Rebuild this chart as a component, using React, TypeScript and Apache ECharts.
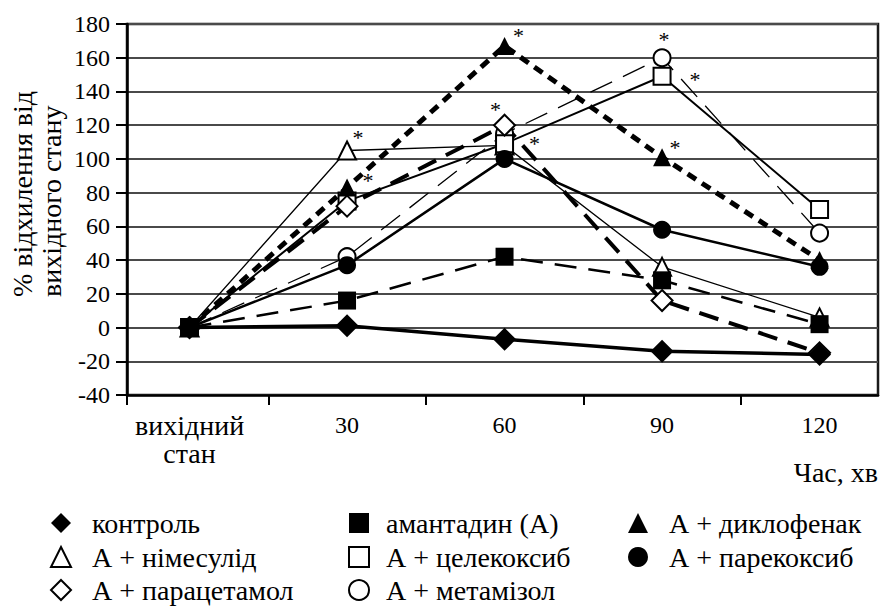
import React, { useEffect, useRef } from "react";
import * as echarts from "echarts";

// ---------- data ----------
const categories = ["вихідний\nстан", "30", "60", "90", "120"];
const yMin = -40;
const yMax = 180;
const yStep = 20;

const control = [0, 1, -7, -14, -16];
const amantadine = [0, 16, 42, 28, 2];
const diclofenac = [0, 83, 167, 101, 40];
const nimesulide = [0, 105, 108, 36, 6];
const celecoxib = [0, 75, 109, 149, 70];
const parecoxib = [0, 37, 100, 58, 36];
const paracetamol = [0, 72, 120, 16, -15];
const metamizole = [0, 42, 115, 160, 56];

// points marked with an asterisk (indices into categories)
const diclofenacStars = [1, 2, 3];
const nimesulideStars = [1];
const celecoxibStars = [2, 3];
const paracetamolStars = [2];
const metamizoleStars = [3];

// legend layout: three columns of names
const legendColumns = [
  ["контроль", "А + німесулід", "А + парацетамол"],
  ["амантадин (А)", "А + целекоксиб", "А + метамізол"],
  ["А + диклофенак", "А + парекоксиб"],
];

const xTitle = "Час, хв";
const yTitle = "% відхилення від\nвихідного стану";

const FONT = "Liberation Serif";
const NUM_SIZE = 24;
const WORD_SIZE = 28;

export default function App() {
  const ref = useRef<HTMLDivElement>(null);

  useEffect(() => {
    if (!ref.current) return;
    const chart = echarts.init(ref.current, undefined, { renderer: "svg" });

    const starOffsets: Record<string, Record<number, [number, number]>> = {
      "А + диклофенак": { 1: [21, -7], 2: [14, -10], 3: [13, -10] },
      "А + німесулід": { 1: [11, -13] },
      "А + целекоксиб": { 2: [30, 0], 3: [33, 3] },
      "А + парацетамол": { 2: [-9, -16] },
      "А + метамізол": { 3: [2, -18] },
    };

    const mk = (
      name: string,
      values: number[],
      stars: number[],
      symbol: string,
      size: number,
      filled: boolean,
      width: number,
      type: any
    ) => ({
      name,
      type: "line",
      symbol,
      symbolSize: size,
      showAllSymbol: true,
      itemStyle: filled
        ? { color: "#000", borderWidth: 0 }
        : { color: "#fff", borderColor: "#000", borderWidth: 2 },
      lineStyle: { color: "#000", width, type },
      emphasis: { disabled: true },
      data: values.map((v, i) => {
        const item: any = { value: [i, v] };
        if (stars.indexOf(i) >= 0) {
          const off = (starOffsets[name] && starOffsets[name][i]) || [10, -12];
          item.label = {
            show: true,
            formatter: "*",
            position: "inside",
            offset: off,
            fontFamily: FONT,
            fontSize: 22,
            color: "#000",
          };
        }
        return item;
      }),
    });

    const colLeft = [34, 336, 611];
    const colItemWidth = [52, 44, 52];
    const rowTop = [509, 543, 576];
    const legends: any[] = [];
    legendColumns.forEach((names, c) => {
      names.forEach((name, r) => {
        legends.push({
          orient: "horizontal",
          left: colLeft[c],
          top: rowTop[r],
          itemWidth: colItemWidth[c],
          itemHeight: 25,
          padding: 0,
          selectedMode: false,
          lineStyle: { opacity: 0 },
          textStyle: {
            fontFamily: FONT,
            fontSize: WORD_SIZE,
            color: "#000",
            lineHeight: 19,
            padding: [0, 0, 6, 0],
          },
          data: [name],
        });
      });
    });

    chart.setOption({
      animation: false,
      backgroundColor: "#fff",
      textStyle: { fontFamily: FONT },
      grid: {
        left: 127,
        right: 3,
        top: 24,
        bottom: 214,
        containLabel: false,
        outerBoundsMode: "none",
        show: true,
        borderColor: "#1a1a1a",
        borderWidth: 2.5,
      },
      xAxis: {
        type: "value",
        min: -0.397,
        max: 4.371,
        axisLine: { show: true, onZero: false, lineStyle: { color: "#000", width: 2.5 } },
        axisTick: {
          show: true,
          customValues: [-0.397, 0.5, 1.5, 2.5, 3.5],
          length: 10,
          lineStyle: { color: "#000", width: 2 },
        },
        axisLabel: {
          customValues: [0, 1, 2, 3, 4],
          formatter: (v: number) => {
            const c = categories[Math.round(v)] ?? "";
            if (/^\d+$/.test(c)) return "{n|" + c + "}";
            return c
              .split("\n")
              .map((s) => "{w|" + s + "}")
              .join("\n");
          },
          fontFamily: FONT,
          fontSize: NUM_SIZE,
          lineHeight: 28,
          color: "#000",
          margin: 16,
          rich: {
            n: { fontFamily: FONT, fontSize: NUM_SIZE, lineHeight: 28, color: "#000" },
            w: { fontFamily: FONT, fontSize: WORD_SIZE, lineHeight: 28, color: "#000" },
          },
        },
        splitLine: { show: false },
      },
      yAxis: {
        type: "value",
        min: yMin,
        max: yMax,
        interval: yStep,
        axisLine: { show: true, onZero: false, lineStyle: { color: "#000", width: 2.5 } },
        axisTick: { show: true, length: 11, lineStyle: { color: "#000", width: 2 } },
        axisLabel: { fontFamily: FONT, fontSize: NUM_SIZE, color: "#000", margin: 17 },
        splitLine: { show: true, lineStyle: { color: "#4a4a4a", width: 1.8 } },
      },
      legend: legends,
      graphic: [
        {
          type: "text",
          x: 8,
          y: 297,
          rotation: Math.PI / 2,
          style: {
            text: yTitle,
            fontFamily: FONT,
            fontSize: WORD_SIZE,
            lineHeight: 29,
            fill: "#000",
            align: "left",
            verticalAlign: "top",
          },
        },
        {
          type: "text",
          x: 878,
          y: 472.5,
          style: {
            text: xTitle,
            fontFamily: FONT,
            fontSize: WORD_SIZE,
            fill: "#000",
            align: "right",
            verticalAlign: "middle",
          },
        },
      ],
      series: [
        mk("А + метамізол", metamizole, metamizoleStars, "circle", 17, false, 1.3, [24, 12]),
        mk("А + німесулід", nimesulide, nimesulideStars, "triangle", 18, false, 1.3, "solid"),
        mk("А + целекоксиб", celecoxib, celecoxibStars, "rect", 17, false, 2, "solid"),
        mk("А + парекоксиб", parecoxib, [], "circle", 18, true, 2.5, "solid"),
        mk("А + парацетамол", paracetamol, paracetamolStars, "diamond", 21, false, 4, [20, 11]),
        mk("А + диклофенак", diclofenac, diclofenacStars, "triangle", 18, true, 5, [10, 7]),
        mk("амантадин (А)", amantadine, [], "rect", 18, true, 2.5, [22, 12]),
        mk("контроль", control, [], "diamond", 23, true, 3.5, "solid"),
      ],
    });

    return () => chart.dispose();
  }, []);

  return (
    <div
      ref={ref}
      style={{ position: "fixed", left: 0, top: 0, width: 881, height: 609, background: "#fff" }}
    />
  );
}
